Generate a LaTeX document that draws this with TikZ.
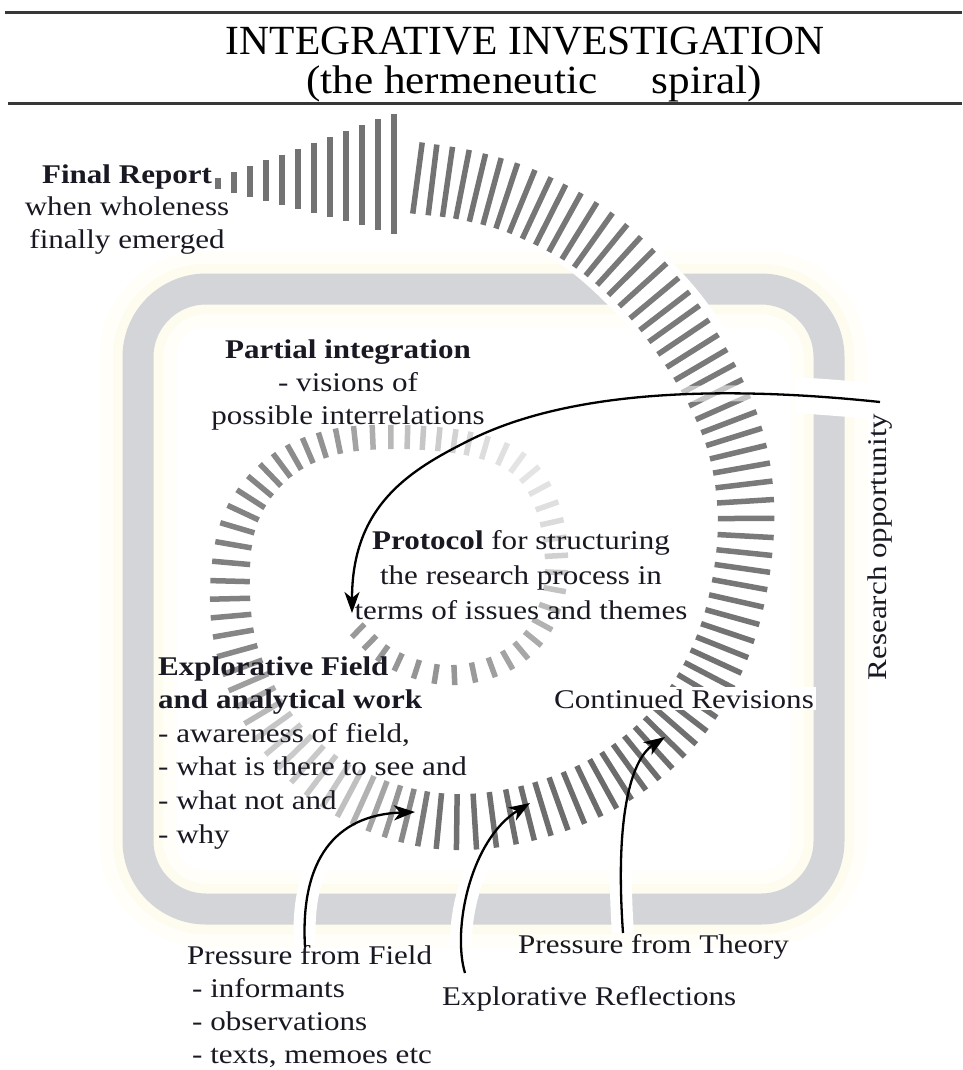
\documentclass[tikz,border=0pt]{standalone}
\usepackage{fontspec}
\setmainfont{Liberation Serif}[FakeStretch=1.15]
\newfontfamily\titlefont{Liberation Serif}
\usetikzlibrary{arrows.meta}

\definecolor{bandgray}{RGB}{211,213,216}
\definecolor{glowA}{RGB}{255,254,248}
\definecolor{glowB}{RGB}{254,252,239}
\definecolor{txt}{RGB}{25,25,35}
\definecolor{ruleC}{RGB}{55,55,55}

% spiral centre line (index 0 and 31 are phantom points), stripe length, grey level
\def\PX{{314,352,390,445,500,538,556,550,524,475,400,330,276,240,230,240,278,343,430,520,610,680,725,745,740,712,660,600,530,470,410,350}}
\def\PY{{592,625,658,675,664,632,580,515,468,445,437,443,470,520,590,660,733,790,820,815,780,720,640,545,460,385,305,245,205,186,177,168}}
\def\PW{{18,18,19,20,21,22,23,24,24,24,24,26,30,35,40,42,46,52,56,56,56,56,56,56,58,60,63,66,68,70,72,72}}
\def\PS{{40,40,41,42,37,32,22,13,10,14,26,42,47,49,50,46,20,22,55,57,58,56,55,52,52,52,52,53,54,55,55,55}}

\begin{document}
\begin{tikzpicture}[x=1pt,y=-1pt,
  lbl/.style={font=\fontsize{27}{34}\selectfont, text=txt, inner sep=0pt},
  ttl/.style={font=\titlefont\fontsize{41.5}{44}\selectfont, text=black, inner sep=0pt},
  subttl/.style={font=\titlefont\fontsize{40}{44}\selectfont, text=black, inner sep=0pt},
  conn/.style={line width=2.3pt, draw=black, -{Stealth[length=21pt,width=15pt,inset=6pt]}},
  halo/.style={draw=white},
  stripe/.style={line width=5.5pt},
  frame/.style={rounded corners=68pt}]
\useasboundingbox (0,0) rectangle (962,1070);
\fill[white] (0,0) rectangle (962,1070);

% ---- title ----
\draw[ruleC, line width=3pt] (5,13) -- (962,13);
\draw[ruleC, line width=3pt] (8,104) -- (962,104);
\node[ttl, anchor=base] (title) at (525,55) {INTEGRATIVE INVESTIGATION};
\node[subttl, anchor=base] (subtitle) at (534,94) {\scalebox{1.08}[1]{(the hermeneutic\hspace{50pt}spiral)}};

% ---- frame ----
\draw[glowA, line width=76pt, frame] (138,289) rectangle (829,909);
\draw[glowB, line width=50pt, frame] (138,289) rectangle (829,909);
\draw[bandgray, line width=31pt, frame] (138,289) rectangle (829,909);

% ---- connector end points ----
\coordinate (rsStart) at (880,402);
\coordinate (rsMid) at (470,440);
\coordinate (rsEnd) at (352,613);
\coordinate (pfStart) at (305,947);
\coordinate (pfEnd) at (415,812);
\coordinate (erStart) at (465,973);
\coordinate (erEnd) at (530,803);
\coordinate (ptStart) at (623,933);
\coordinate (ptEnd) at (665,737);

% ---- gaps in the frame where connectors cross ----
\begin{scope}
  \clip (795,350) rectangle (875,430);
  \draw[halo, line width=36pt] (rsStart) .. controls (700,383) and (560,395) .. (rsMid);
\end{scope}
\begin{scope}
  \clip (100,865) rectangle (870,945);
  \draw[halo, line width=22pt] (pfStart) .. controls (300,860) and (335,815) .. (pfEnd);
  \draw[halo, line width=22pt] (erStart) .. controls (452,930) and (470,840) .. (erEnd);
  \draw[halo, line width=22pt] (ptStart) .. controls (615,820) and (630,760) .. (ptEnd);
\end{scope}

% ---- white underlay where the spiral crosses the frame ----
\draw[white, line width=76pt] (742,470) .. controls (735,420) and (700,350) .. (660,305)
  .. controls (620,260) and (580,225) .. (540,210);

% ---- spiral of stripes (Catmull-Rom centre line) ----
\foreach \i in {1,...,29}{
  \pgfmathsetmacro\xa{\PX[\i-1]}\pgfmathsetmacro\xb{\PX[\i]}
  \pgfmathsetmacro\xc{\PX[\i+1]}\pgfmathsetmacro\xd{\PX[\i+2]}
  \pgfmathsetmacro\ya{\PY[\i-1]}\pgfmathsetmacro\yb{\PY[\i]}
  \pgfmathsetmacro\yc{\PY[\i+1]}\pgfmathsetmacro\yd{\PY[\i+2]}
  \pgfmathsetmacro\wB{\PW[\i]}\pgfmathsetmacro\wC{\PW[\i+1]}
  \pgfmathsetmacro\sB{\PS[\i]}\pgfmathsetmacro\sC{\PS[\i+1]}
  \pgfmathtruncatemacro\nn{max(1,round(veclen(\xc-\xb,\yc-\yb)/16.5))}
  \foreach \k in {1,...,\nn}{
    \pgfmathsetmacro\uu{(\k-0.5)/\nn}
    \pgfmathsetmacro\px{0.5*(2*\xb+(-\xa+\xc)*\uu+(2*\xa-5*\xb+4*\xc-\xd)*\uu*\uu+(-\xa+3*\xb-3*\xc+\xd)*\uu*\uu*\uu)}
    \pgfmathsetmacro\py{0.5*(2*\yb+(-\ya+\yc)*\uu+(2*\ya-5*\yb+4*\yc-\yd)*\uu*\uu+(-\ya+3*\yb-3*\yc+\yd)*\uu*\uu*\uu)}
    \pgfmathsetmacro\tx{0.5*((-\xa+\xc)+2*(2*\xa-5*\xb+4*\xc-\xd)*\uu+3*(-\xa+3*\xb-3*\xc+\xd)*\uu*\uu)}
    \pgfmathsetmacro\ty{0.5*((-\ya+\yc)+2*(2*\ya-5*\yb+4*\yc-\yd)*\uu+3*(-\ya+3*\yb-3*\yc+\yd)*\uu*\uu)}
    \pgfmathsetmacro\tlen{veclen(\tx,\ty)}
    \pgfmathsetmacro\ww{\wB+(\wC-\wB)*\uu}
    \pgfmathsetmacro\shd{\sB+(\sC-\sB)*\uu}
    \pgfmathsetmacro\nx{-\ty/\tlen*\ww/2}
    \pgfmathsetmacro\ny{\tx/\tlen*\ww/2}
    \draw[stripe, color=black!\shd] ({\px-\nx},{\py-\ny}) -- ({\px+\nx},{\py+\ny});
  }
}

% ---- arrow head of the spiral ----
\foreach \i in {0,...,11}{
  \pgfmathsetmacro\ax{218+16*\i}
  \pgfmathsetmacro\ah{11+9.9*\i}
  \pgfmathsetmacro\ac{183.5-0.9*\i}
  \pgfmathsetmacro\aTop{\ac-\ah/2}
  \pgfmathsetmacro\aBot{\ac+\ah/2}
  \draw[line width=6pt, color=black!55] (\ax,\aTop) -- (\ax,\aBot);
}

% ---- softened stripes where the research connector crosses the spiral ----
\begin{scope}
  \clip (680,370) rectangle (795,430);
  \draw[white, opacity=0.55, line width=16pt] (rsStart) .. controls (700,383) and (560,395) .. (rsMid);
\end{scope}

% ---- texts (base anchor = baseline of the last line) ----
\node[lbl, font=\fontsize{27}{32.5}\selectfont, anchor=base, align=center] (final) at (127,248)
  {\textbf{Final Report}\\when wholeness\\finally emerged};
\node[lbl, font=\fontsize{27}{33}\selectfont, anchor=base, align=center] (partial) at (348,424)
  {\textbf{Partial integration}\\- visions of\\possible interrelations};
\node[lbl, font=\fontsize{27}{35}\selectfont, anchor=base, align=center] (protocol) at (521,619)
  {\textbf{Protocol} for structuring\\the research process in\\terms of issues and themes};
\node[lbl, font=\fontsize{27}{33.6}\selectfont, anchor=base west, align=left] (explore) at (158,843)
  {\textbf{Explorative Field}\\\textbf{and analytical work}\\- awareness of field,\\- what is there to see and\\- what not and\\- why};
\node[lbl, anchor=base west, fill=white, inner sep=2pt] (revisions) at (552,708) {Continued Revisions};
\node[lbl, anchor=base, rotate=90] (research) at (886,547) {Research opportunity};
\node[lbl, font=\fontsize{27}{33}\selectfont, anchor=base west, align=left] (pfield) at (187,1063)
  {Pressure from Field\\\hspace*{5pt}- informants\\\hspace*{5pt}- observations\\\hspace*{5pt}- texts, memoes etc};
\node[lbl, anchor=base west] (ptheory) at (518,953) {Pressure from Theory};
\node[lbl, anchor=base west] (reflect) at (442,1005) {Explorative Reflections};

% ---- connectors ----
\draw[line width=2.3pt] (rsStart) .. controls (700,383) and (560,395) .. (rsMid);
\draw[conn] (rsMid) .. controls (410,470) and (352,505) .. (rsEnd);
\draw[conn] (pfStart) .. controls (300,860) and (335,815) .. (pfEnd);
\draw[conn] (erStart) .. controls (452,930) and (470,840) .. (erEnd);
\draw[conn] (ptStart) .. controls (615,820) and (630,760) .. (ptEnd);
\end{tikzpicture}
\end{document}
